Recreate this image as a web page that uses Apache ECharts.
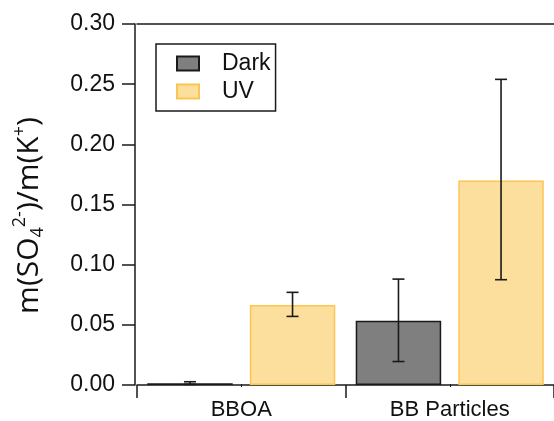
<!DOCTYPE html>
<html>
<head>
<meta charset="utf-8">
<script src="https://cdn.jsdelivr.net/npm/echarts@6/dist/echarts.min.js"></script>
<style>
  html, body { margin: 0; padding: 0; background: #fff; }
  #chart { width: 554px; height: 421px; }
</style>
</head>
<body>
<div id="chart"></div>
<script>
// Sulfate-to-potassium mass ratio, dark vs. UV aging
const categories = ['BBOA', 'BB Particles'];
const darkValues = [0.0015, 0.0533];
const darkLow    = [0.0005, 0.0195];
const darkHigh   = [0.0027, 0.0880];
const uvValues   = [0.0665, 0.1700];
const uvLow      = [0.0570, 0.0875];
const uvHigh     = [0.0770, 0.2540];
const yTicks = { min: 0, max: 0.30, interval: 0.05 };

const BAR_FRAC = 0.41;    // bar width as a fraction of the category band
const GAP_FRAC = 0.20;    // gap between the two bars, as a fraction of bar width
const INK = '#1a1a1a';
const FONT = "'Liberation Sans', Arial, sans-serif";
const TITLE_FONT = "'Open Sans', sans-serif";

function errorBars(side) {
  return function (params, api) {
    const ci = api.value(0);
    const lo = api.coord([ci, api.value(1)]);
    const hi = api.coord([ci, api.value(2)]);
    const catW = api.size([1, 0])[0];
    const barW = catW * BAR_FRAC;
    const dx = side * (barW + barW * GAP_FRAC) / 2;
    const x = lo[0] + dx;
    const cap = 6;
    const st = { stroke: INK, lineWidth: 1.6 };
    return {
      type: 'group',
      children: [
        { type: 'line', shape: { x1: x, y1: lo[1], x2: x, y2: hi[1] }, style: st },
        { type: 'line', shape: { x1: x - cap, y1: hi[1], x2: x + cap, y2: hi[1] }, style: st },
        { type: 'line', shape: { x1: x - cap, y1: lo[1], x2: x + cap, y2: lo[1] }, style: st }
      ]
    };
  };
}

const chart = echarts.init(document.getElementById('chart'), null, { renderer: 'canvas' });
chart.setOption({
  animation: false,
  backgroundColor: '#ffffff',
  grid: { left: 137, top: 24, width: 420, height: 361, containLabel: false },
  legend: {
    orient: 'vertical',
    left: 156,
    top: 44,
    padding: [8, 5, 8, 20],
    itemGap: 5,
    itemWidth: 22,
    itemHeight: 14,
    icon: 'rect',
    borderColor: INK,
    borderWidth: 1.5,
    borderRadius: 0,
    backgroundColor: '#fff',
    textStyle: { fontFamily: FONT, fontSize: 23, color: '#111', padding: [0, 0, 0, 18] },
    data: ['Dark', 'UV']
  },
  xAxis: [
    {
      type: 'category',
      data: categories,
      position: 'bottom',
      offset: 2,
      axisLine: { lineStyle: { color: INK, width: 1.5 } },
      axisTick: { show: true, inside: false, length: 13, lineStyle: { color: INK, width: 1.5 } },
      axisLabel: { fontFamily: FONT, fontSize: 22, color: '#111', margin: 12 },
      splitLine: { show: false }
    },
    {
      type: 'category',
      data: categories,
      position: 'top',
      axisLine: { lineStyle: { color: INK, width: 1.5 } },
      axisTick: { show: false },
      axisLabel: { show: false }
    },
    {
      type: 'category',
      data: categories,
      position: 'bottom',
      offset: 2,
      axisLine: { show: false },
      axisTick: { show: true, alignWithLabel: true, inside: true, length: 3, lineStyle: { color: INK, width: 1 } },
      axisLabel: { show: false }
    }
  ],
  yAxis: {
    type: 'value',
    min: yTicks.min,
    max: yTicks.max,
    interval: yTicks.interval,
    offset: 2,
    axisLine: { show: true, lineStyle: { color: INK, width: 1.5 } },
    axisTick: { show: true, length: 13, lineStyle: { color: INK, width: 1.5 } },
    axisLabel: {
      fontFamily: FONT, fontSize: 23, color: '#111', margin: 20,
      formatter: v => v.toFixed(2)
    },
    splitLine: { show: false },
    name: '{n|m(SO}{sub|4}{sup|2-}{n|)/m(K}{sup|+}{n|)}',
    nameLocation: 'middle',
    nameRotate: 90,
    nameGap: 88,
    nameTextStyle: {
      color: '#111',
      padding: [0, 22, 0, 0],
      rich: {
        n: { fontFamily: TITLE_FONT, fontSize: 30, lineHeight: 36, color: '#111' },
        sub: { fontFamily: TITLE_FONT, fontSize: 18, lineHeight: 15, verticalAlign: 'bottom', color: '#111' },
        sup: { fontFamily: TITLE_FONT, fontSize: 18, lineHeight: 19, verticalAlign: 'top', color: '#111' }
      }
    }
  },
  series: [
    {
      name: 'Dark',
      type: 'bar',
      data: darkValues,
      barWidth: (BAR_FRAC * 100) + '%',
      barGap: (GAP_FRAC * 100) + '%',
      itemStyle: { color: '#7f7f7f', borderColor: INK, borderWidth: 1.5 },
      z: 2
    },
    {
      name: 'UV',
      type: 'bar',
      data: uvValues,
      barWidth: (BAR_FRAC * 100) + '%',
      barGap: (GAP_FRAC * 100) + '%',
      itemStyle: { color: '#fddf9d', borderColor: '#fcc552', borderWidth: 1.5 },
      z: 2
    },
    {
      type: 'custom',
      renderItem: errorBars(-1),
      data: categories.map((c, i) => [i, darkLow[i], darkHigh[i]]),
      z: 5,
      silent: true
    },
    {
      type: 'custom',
      renderItem: errorBars(1),
      data: categories.map((c, i) => [i, uvLow[i], uvHigh[i]]),
      z: 5,
      silent: true
    }
  ]
});
</script>
</body>
</html>
